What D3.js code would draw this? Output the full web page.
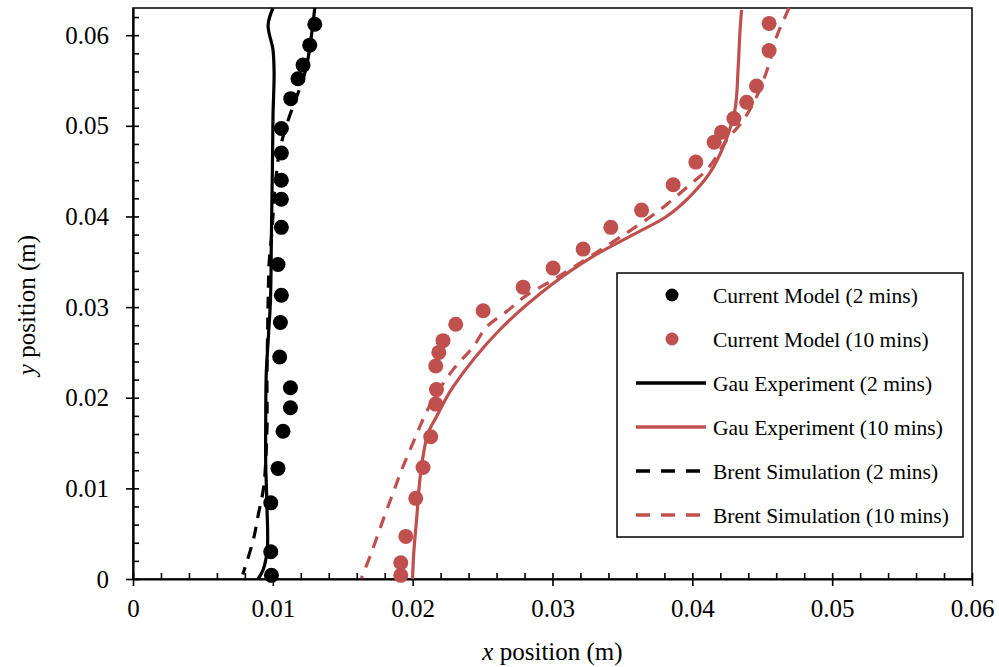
<!DOCTYPE html>
<html>
<head>
<meta charset="utf-8">
<script src="https://cdn.jsdelivr.net/npm/d3@7"></script>
<style>
  body { margin: 0; background: #fff; }
  svg { display: block; font-family: "Liberation Serif", "Times New Roman", serif; }
</style>
</head>
<body>
<div id="chart"></div>
<script>
// values (x, y in metres)
const modelX2 = [0.0130, 0.01264, 0.01216, 0.0118, 0.01128, 0.01061, 0.01061, 0.01061, 0.01061, 0.01061, 0.01037, 0.01061, 0.01054, 0.01049, 0.01126, 0.01126, 0.01073, 0.01037, 0.00985, 0.00985, 0.0099];
const modelY2 = [0.0612, 0.0589, 0.0567, 0.0552, 0.0530, 0.0497, 0.0470, 0.0440, 0.0419, 0.0388, 0.0347, 0.0313, 0.0283, 0.0245, 0.0211, 0.0189, 0.0163, 0.0122, 0.0084, 0.0030, 0.0004];

const modelX10 = [0.04549, 0.04549, 0.04459, 0.04388, 0.04297, 0.04209, 0.04156, 0.04025, 0.03863, 0.03637, 0.03417, 0.03219, 0.03004, 0.0279, 0.02504, 0.02308, 0.02217, 0.02187, 0.02165, 0.0217, 0.02165, 0.02129, 0.02074, 0.02022, 0.01951, 0.01915, 0.01915];
const modelY10 = [0.0613, 0.0583, 0.0544, 0.0526, 0.0508, 0.0493, 0.0482, 0.0460, 0.0435, 0.0407, 0.0388, 0.0364, 0.0343, 0.0322, 0.0296, 0.0281, 0.0263, 0.0250, 0.0235, 0.0209, 0.0193, 0.0157, 0.0123, 0.0089, 0.0047, 0.0018, 0.0004];

const gauX2 = [0.01001, 0.00966, 0.01001, 0.01009, 0.01001, 0.00997, 0.0099, 0.00983, 0.00967, 0.00953, 0.00949, 0.00949, 0.00958, 0.0096, 0.0093, 0.00894];
const gauY2 = [0.0630, 0.0611, 0.0584, 0.0558, 0.0510, 0.0454, 0.0382, 0.0308, 0.0264, 0.0227, 0.0172, 0.0128, 0.0080, 0.0032, 0.0010, 0];

const gauX10 = [0.04352, 0.0434, 0.04328, 0.04304, 0.04232, 0.04125, 0.03982, 0.03815, 0.03577, 0.0329, 0.03004, 0.02623, 0.02289, 0.0217, 0.0211, 0.02074, 0.02051, 0.02032, 0.02008, 0.01999];
const gauY10 = [0.0628, 0.0602, 0.0565, 0.0517, 0.0481, 0.0448, 0.0422, 0.0400, 0.0380, 0.0356, 0.0326, 0.0275, 0.0212, 0.0179, 0.0161, 0.0135, 0.0109, 0.0073, 0.0029, 0];

const brentX2 = [0.0130, 0.0124, 0.01171, 0.01109, 0.01049, 0.01014, 0.00992, 0.00974, 0.00967, 0.00964, 0.00958, 0.00958, 0.00935, 0.00896, 0.0086, 0.00785];
const brentY2 = [0.0630, 0.0565, 0.0532, 0.0506, 0.0473, 0.0429, 0.0380, 0.0350, 0.0313, 0.0286, 0.0220, 0.0165, 0.0102, 0.0071, 0.0043, 0.0005];

const brentX10 = [0.04692, 0.04674, 0.04602, 0.04542, 0.04459, 0.04363, 0.04245, 0.04113, 0.03982, 0.03815, 0.03648, 0.0316, 0.02993, 0.02814, 0.02671, 0.02528, 0.02432, 0.02289, 0.02146, 0.02074, 0.01991, 0.0192, 0.0186, 0.01788, 0.01705, 0.01634];
const brentY10 = [0.0630, 0.0624, 0.0598, 0.0565, 0.0532, 0.0506, 0.0484, 0.0453, 0.0435, 0.0413, 0.0394, 0.0345, 0.0329, 0.0313, 0.0295, 0.0278, 0.0256, 0.0231, 0.0198, 0.0176, 0.0146, 0.0120, 0.0095, 0.0065, 0.0029, 0.0001];

const xTicks = [0, 0.01, 0.02, 0.03, 0.04, 0.05, 0.06];
const yTicks = [0, 0.01, 0.02, 0.03, 0.04, 0.05, 0.06];
const xMinor = d3.range(0, 0.0601, 0.002);
const yMinor = d3.range(0, 0.0621, 0.002);

const legendLabels = [
  "Current Model (2 mins)", "Current Model (10 mins)",
  "Gau Experiment (2 mins)", "Gau Experiment (10 mins)",
  "Brent Simulation (2 mins)", "Brent Simulation (10 mins)"
];

const red = "#c0504d";

function zip(xs, ys) {
  return xs.map((x, i) => ({ x, y: ys[i] }));
}

function createChart() {
  const width = 999;
  const height = 667;
  const margin = { top: 8, right: 27, bottom: 88, left: 133 };

  const usableArea = {
    width: width - margin.left - margin.right,
    height: height - margin.top - margin.bottom
  };

  const svg = d3.select("#chart")
    .append("svg")
    .attr("width", width)
    .attr("height", height);

  const g = svg.append("g")
    .attr("transform", `translate(${margin.left},${margin.top})`);

  const xScale = d3.scaleLinear().domain([0, 0.06]).range([0, usableArea.width]);
  const yScale = d3.scaleLinear().domain([0, 0.063]).range([usableArea.height, 0]);

  // frame
  g.append("rect")
    .attr("width", usableArea.width)
    .attr("height", usableArea.height)
    .attr("fill", "none")
    .attr("stroke", "#000")
    .attr("stroke-width", 1.5);

  // inward ticks (major + minor)
  g.append("g")
    .attr("transform", `translate(0,${usableArea.height})`)
    .call(d3.axisBottom(xScale).tickValues(xMinor).tickSize(-6).tickFormat(""))
    .call((a) => a.select(".domain").remove());
  g.append("g")
    .call(d3.axisLeft(yScale).tickValues(yMinor).tickSize(-6).tickFormat(""))
    .call((a) => a.select(".domain").remove());

  // outward major ticks with labels
  const xAxis = g.append("g")
    .attr("transform", `translate(0,${usableArea.height})`)
    .call(d3.axisBottom(xScale).tickValues(xTicks).tickSize(7).tickSizeOuter(0).tickPadding(13)
      .tickFormat((d) => d === 0 ? "0" : d3.format(".2f")(d)));
  const yAxis = g.append("g")
    .call(d3.axisLeft(yScale).tickValues(yTicks).tickSize(7).tickSizeOuter(0).tickPadding(17)
      .tickFormat((d) => d === 0 ? "0" : d3.format(".2f")(d)));

  [xAxis, yAxis].forEach((a) => {
    a.selectAll("text").attr("font-size", 25).attr("font-family", "Liberation Serif").attr("fill", "#000");
    a.select(".domain").attr("stroke-width", 2.2);
  });
  g.selectAll(".tick line").attr("stroke-width", 1.6);

  // lines
  const line = d3.line()
    .x((d) => xScale(d.x))
    .y((d) => yScale(d.y))
    .curve(d3.curveCatmullRom.alpha(0.5));

  const series = [
    { data: zip(gauX2, gauY2), color: "#000", dash: null },
    { data: zip(gauX10, gauY10), color: red, dash: null },
    { data: zip(brentX2, brentY2), color: "#000", dash: "12,9" },
    { data: zip(brentX10, brentY10), color: red, dash: "12,9" }
  ];

  g.append("g")
    .selectAll("path")
    .data(series)
    .join("path")
    .attr("d", (d) => line(d.data))
    .attr("fill", "none")
    .attr("stroke", (d) => d.color)
    .attr("stroke-width", 3.2)
    .attr("stroke-dasharray", (d) => d.dash);

  // model points
  const points = [
    { data: zip(modelX2, modelY2), color: "#000" },
    { data: zip(modelX10, modelY10), color: red }
  ];

  g.append("g")
    .selectAll("g")
    .data(points)
    .join("g")
    .attr("fill", (d) => d.color)
    .selectAll("circle")
    .data((d) => d.data)
    .join("circle")
    .attr("cx", (d) => xScale(d.x))
    .attr("cy", (d) => yScale(d.y))
    .attr("r", 7.5);

  // axis titles
  const xTitle = svg.append("text")
    .attr("x", margin.left + usableArea.width / 2)
    .attr("y", 660)
    .attr("text-anchor", "middle")
    .attr("font-size", 25);
  xTitle.append("tspan").attr("font-style", "italic").text("x");
  xTitle.append("tspan").text(" position (m)");

  const yTitle = svg.append("text")
    .attr("transform", "translate(35,305) rotate(-90)")
    .attr("text-anchor", "middle")
    .attr("font-size", 25);
  yTitle.append("tspan").attr("font-style", "italic").text("y");
  yTitle.append("tspan").text(" position (m)");

  // legend
  const legend = svg.append("g").attr("transform", "translate(617,273)");
  legend.append("rect")
    .attr("width", 346)
    .attr("height", 264)
    .attr("fill", "#fff")
    .attr("stroke", "#000")
    .attr("stroke-width", 1.5);

  const rows = legend.selectAll("g.row")
    .data(legendLabels)
    .join("g")
    .attr("class", "row")
    .attr("transform", (d, i) => `translate(0,${22 + i * 44})`);

  rows.filter((d, i) => i < 2)
    .append("circle")
    .attr("cx", 55)
    .attr("r", 6.5)
    .attr("fill", (d, i) => i === 0 ? "#000" : red);

  rows.filter((d, i) => i >= 2)
    .append("line")
    .attr("x1", 19)
    .attr("x2", 89)
    .attr("stroke", (d, i) => i % 2 === 0 ? "#000" : red)
    .attr("stroke-width", 3.5)
    .attr("stroke-dasharray", (d, i) => i >= 2 ? "14,11" : null);

  rows.append("text")
    .attr("x", 96)
    .attr("dy", "0.35em")
    .attr("font-size", 21.5)
    .text((d) => d);
}

document.addEventListener("DOMContentLoaded", createChart);
</script>
</body>
</html>
